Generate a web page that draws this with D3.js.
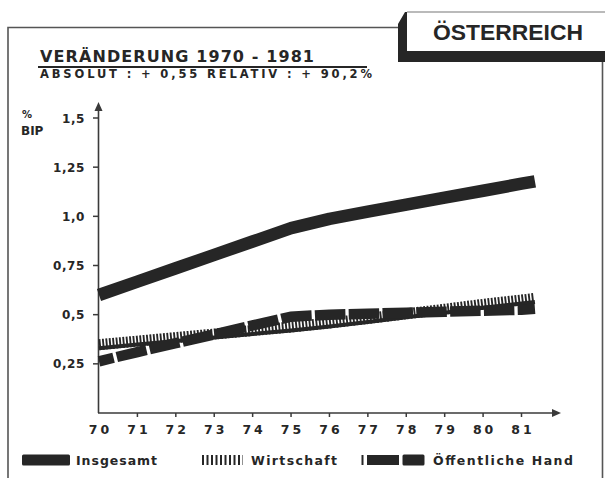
<!DOCTYPE html>
<html>
<head>
<meta charset="utf-8">
<script src="https://cdn.jsdelivr.net/npm/d3@7"></script>
<style>
  body { margin: 0; background: #fff; }
  svg { display: block; font-family: "DejaVu Sans", Arial, sans-serif; }
</style>
</head>
<body>
<div id="chart"></div>
<script>
//Data (years as 19xx, last point = where the drawn lines stop, a bit past 81)
const years = [70, 71, 72, 73, 74, 75, 76, 77, 78, 79, 80, 81, 81.35];
const insgesamt = [0.60, 0.668, 0.736, 0.804, 0.872, 0.94, 0.987, 1.024, 1.06, 1.095, 1.13, 1.166, 1.178];
const wirtschaft = [0.345, 0.363, 0.381, 0.399, 0.417, 0.435, 0.455, 0.478, 0.502, 0.525, 0.55, 0.572, 0.58];
const oeffentlich = [0.263, 0.31, 0.355, 0.40, 0.445, 0.49, 0.50, 0.505, 0.51, 0.515, 0.52, 0.525, 0.53];
const xTicks = [70, 71, 72, 73, 74, 75, 76, 77, 78, 79, 80, 81];
const yTicks = [0.25, 0.5, 0.75, 1.0, 1.25, 1.5];
const yTickLabels = ["0,25", "0,5", "0,75", "1,0", "1,25", "1,5"];

//Dim
const width = 605;
const height = 478;
const ink = "#262626";

const svg = d3.select("#chart")
    .append("svg")
    .attr("width", width)
    .attr("height", height);

//Scales
const x = d3.scaleLinear().domain([70, 81]).range([99, 521.5]);
const y = d3.scaleLinear().domain([0, 1.5]).range([413, 118]);

//Frame
svg.append("path")
    .attr("d", "M8,478 V27.5 H399 M602.5,62 V478")
    .attr("fill", "none")
    .attr("stroke", "#555")
    .attr("stroke-width", 1.6);

//Title box with shadow
svg.append("path")
    .attr("d", "M398,24 L405,12 L407,12 L407,51 L605,51 L605,62 L398,62 Z")
    .attr("fill", ink);
svg.append("path")
    .attr("d", "M407,12 H605")
    .attr("stroke", "#777")
    .attr("stroke-width", 1.2);
svg.append("text")
    .attr("x", 433).attr("y", 40)
    .attr("font-family", "Liberation Sans, Arial, sans-serif")
    .attr("font-size", 22.5)
    .attr("font-weight", "bold")
    .attr("fill", ink)
    .attr("textLength", 150)
    .attr("lengthAdjust", "spacingAndGlyphs")
    .text("ÖSTERREICH");

//Heading
svg.append("text")
    .attr("x", 40).attr("y", 62)
    .attr("font-size", 16)
    .attr("font-weight", "bold")
    .attr("fill", ink)
    .attr("textLength", 274)
    .attr("lengthAdjust", "spacing")
    .text("VERÄNDERUNG 1970 - 1981");
svg.append("line")
    .attr("x1", 38).attr("x2", 367)
    .attr("y1", 67).attr("y2", 67)
    .attr("stroke", ink)
    .attr("stroke-width", 2);
svg.append("text")
    .attr("x", 40).attr("y", 78)
    .attr("font-size", 11.5)
    .attr("font-weight", "bold")
    .attr("fill", ink)
    .attr("textLength", 332)
    .attr("lengthAdjust", "spacing")
    .text("ABSOLUT : + 0,55   RELATIV : + 90,2%");

//Unit label
svg.append("text")
    .attr("x", 22).attr("y", 118)
    .attr("font-size", 10).attr("font-weight", "bold")
    .attr("fill", ink)
    .text("%");
svg.append("text")
    .attr("x", 21).attr("y", 135)
    .attr("font-size", 12).attr("font-weight", "bold")
    .attr("fill", ink)
    .text("BIP");

//Axes
const axisColor = "#3a3a3a";
svg.append("line")
    .attr("x1", x(70) - 0.5).attr("x2", x(70) - 0.5)
    .attr("y1", y(0)).attr("y2", 108)
    .attr("stroke", axisColor).attr("stroke-width", 1.6);
svg.append("path")
    .attr("d", `M${x(70) - 0.5},102 l-4,9 h8 Z`)
    .attr("fill", axisColor);
svg.append("line")
    .attr("x1", x(70) - 1).attr("x2", 554)
    .attr("y1", y(0)).attr("y2", y(0))
    .attr("stroke", axisColor).attr("stroke-width", 1.6);
svg.append("path")
    .attr("d", `M561,${y(0)} l-9,-4 v8 Z`)
    .attr("fill", axisColor);

//Y ticks and labels
svg.selectAll(".ytick")
    .data(yTicks)
    .enter()
    .append("line")
    .attr("class", "ytick")
    .attr("x1", x(70) - 6).attr("x2", x(70))
    .attr("y1", d => y(d)).attr("y2", d => y(d))
    .attr("stroke", axisColor).attr("stroke-width", 1.5);
svg.selectAll(".ylab")
    .data(yTicks)
    .enter()
    .append("text")
    .attr("class", "ylab")
    .attr("x", 85)
    .attr("y", d => y(d) + 4.5)
    .attr("text-anchor", "end")
    .attr("font-size", 12).attr("font-weight", "bold")
    .attr("letter-spacing", 0.6)
    .attr("fill", ink)
    .text((d, i) => yTickLabels[i]);

//X ticks and labels
svg.selectAll(".xtick")
    .data(xTicks.slice(1))
    .enter()
    .append("line")
    .attr("class", "xtick")
    .attr("x1", d => x(d)).attr("x2", d => x(d))
    .attr("y1", y(0)).attr("y2", y(0) + 4)
    .attr("stroke", axisColor).attr("stroke-width", 1.5);
svg.selectAll(".xlab")
    .data(xTicks)
    .enter()
    .append("text")
    .attr("class", "xlab")
    .attr("x", d => x(d) + 1.5)
    .attr("y", 433.5)
    .attr("text-anchor", "middle")
    .attr("font-size", 12.5).attr("font-weight", "bold")
    .attr("letter-spacing", 3)
    .attr("fill", ink)
    .text(d => d);

//Lines
const lineOf = (vals, dy = 0) => d3.line()
    .x((d, i) => x(years[i]))
    .y((d, i) => y(vals[i]) + dy)(vals);

//Wirtschaft: comb band (stripes + thin base)
svg.append("path")
    .attr("d", lineOf(wirtschaft, -0.5))
    .attr("fill", "none")
    .attr("stroke", ink)
    .attr("stroke-width", 11)
    .attr("stroke-dasharray", "1.9,1.5");
svg.append("path")
    .attr("d", lineOf(wirtschaft, 3))
    .attr("fill", "none")
    .attr("stroke", ink)
    .attr("stroke-width", 4);

//Öffentliche Hand: thick dashed band
svg.append("path")
    .attr("d", lineOf(oeffentlich))
    .attr("fill", "none")
    .attr("stroke", ink)
    .attr("stroke-width", 10.5)
    .attr("stroke-dasharray", "30.5,3.3")
    .attr("stroke-dashoffset", 15.5);

//Insgesamt: thick solid band
svg.append("path")
    .attr("d", lineOf(insgesamt))
    .attr("fill", "none")
    .attr("stroke", ink)
    .attr("stroke-width", 12.5)
    .attr("stroke-linejoin", "round");

//Legend
const legY = 460;
svg.append("rect")
    .attr("x", 22).attr("y", legY - 5.5)
    .attr("width", 48).attr("height", 11)
    .attr("rx", 1.5)
    .attr("fill", ink);
svg.append("text")
    .attr("x", 76).attr("y", legY + 4.5)
    .attr("font-size", 12.5).attr("font-weight", "bold")
    .attr("fill", ink)
    .attr("textLength", 81).attr("lengthAdjust", "spacing")
    .text("Insgesamt");

svg.append("line")
    .attr("x1", 202).attr("x2", 243)
    .attr("y1", legY).attr("y2", legY)
    .attr("stroke", ink)
    .attr("stroke-width", 10)
    .attr("stroke-dasharray", "2,2.5");
svg.append("text")
    .attr("x", 251).attr("y", legY + 4.5)
    .attr("font-size", 12.5).attr("font-weight", "bold")
    .attr("fill", ink)
    .attr("textLength", 86).attr("lengthAdjust", "spacing")
    .text("Wirtschaft");

svg.append("rect")
    .attr("x", 361.5).attr("y", legY - 5)
    .attr("width", 2).attr("height", 10)
    .attr("fill", ink);
svg.append("rect")
    .attr("x", 367).attr("y", legY - 5)
    .attr("width", 32).attr("height", 10)
    .attr("fill", ink);
svg.append("rect")
    .attr("x", 402.5).attr("y", legY - 5.5)
    .attr("width", 22).attr("height", 11)
    .attr("rx", 1.5)
    .attr("fill", ink);
svg.append("text")
    .attr("x", 433).attr("y", legY + 4.5)
    .attr("font-size", 12.5).attr("font-weight", "bold")
    .attr("fill", ink)
    .attr("textLength", 140).attr("lengthAdjust", "spacing")
    .text("Öffentliche Hand");
</script>
</body>
</html>
